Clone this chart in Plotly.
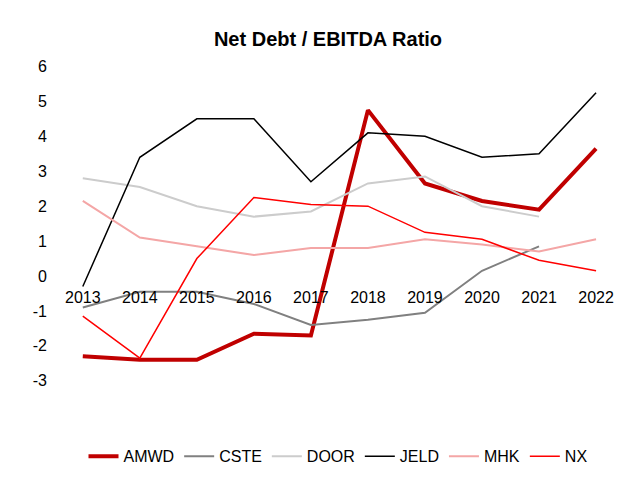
import plotly.graph_objects as go

years = [2013, 2014, 2015, 2016, 2017, 2018, 2019, 2020, 2021, 2022]
y_ticks = [-3, -2, -1, 0, 1, 2, 3, 4, 5, 6]
y_tick_text = ["-3", "-2", "-1", "0", "1", "2", "3", "4", "5", "6"]

amwd = [-2.3, -2.4, -2.4, -1.65, -1.7, 4.75, 2.65, 2.15, 1.9, 3.65]
cste = [-0.9, -0.45, -0.45, -0.8, -1.4, -1.25, -1.05, 0.15, 0.85, None]
door = [2.8, 2.55, 2.0, 1.7, 1.85, 2.65, 2.85, 2.0, 1.7, None]
jeld = [-0.3, 3.4, 4.5, 4.5, 2.7, 4.1, 4.0, 3.4, 3.5, 5.25]
mhk = [2.15, 1.1, 0.85, 0.6, 0.8, 0.8, 1.05, 0.9, 0.7, 1.05]
nx = [-1.15, -2.35, 0.5, 2.25, 2.05, 2.0, 1.25, 1.05, 0.45, 0.15]

series = [
    ("AMWD", amwd, "#c00000", 4),
    ("CSTE", cste, "#808080", 2),
    ("DOOR", door, "#cccccc", 2),
    ("JELD", jeld, "#000000", 1.5),
    ("MHK", mhk, "#f4a6a6", 2),
    ("NX", nx, "#ff0000", 1.5),
]

fig = go.Figure()
for name, vals, color, width in series:
    fig.add_trace(go.Scatter(x=years, y=vals, name=name, mode="lines",
                             line=dict(color=color, width=width)))

fig.update_layout(
    width=640, height=482,
    paper_bgcolor="white", plot_bgcolor="white",
    font=dict(family="Liberation Sans, Arial, sans-serif", size=16, color="#000"),
    title=dict(text="<b>Net Debt / EBITDA Ratio</b>", x=0.5, y=0.95,
               xanchor="center", font=dict(size=20)),
    margin=dict(l=40, r=20, t=41, b=41),
    showlegend=True,
    legend=dict(orientation="h", x=0.5, xanchor="center",
                yref="container", y=0.07, yanchor="middle",
                font=dict(size=16)),
    xaxis=dict(range=[2012.39, 2022.56], tickmode="array", tickvals=years,
               showgrid=False, zeroline=False, showline=False,
               anchor="free", position=0.35, ticks="", ticklabelstandoff=10),
    yaxis=dict(range=[-3.5, 6.5], tickvals=y_ticks, ticktext=y_tick_text,
               showgrid=False, zeroline=False, showline=False, ticks=""),
)

fig.write_html("out.html")
